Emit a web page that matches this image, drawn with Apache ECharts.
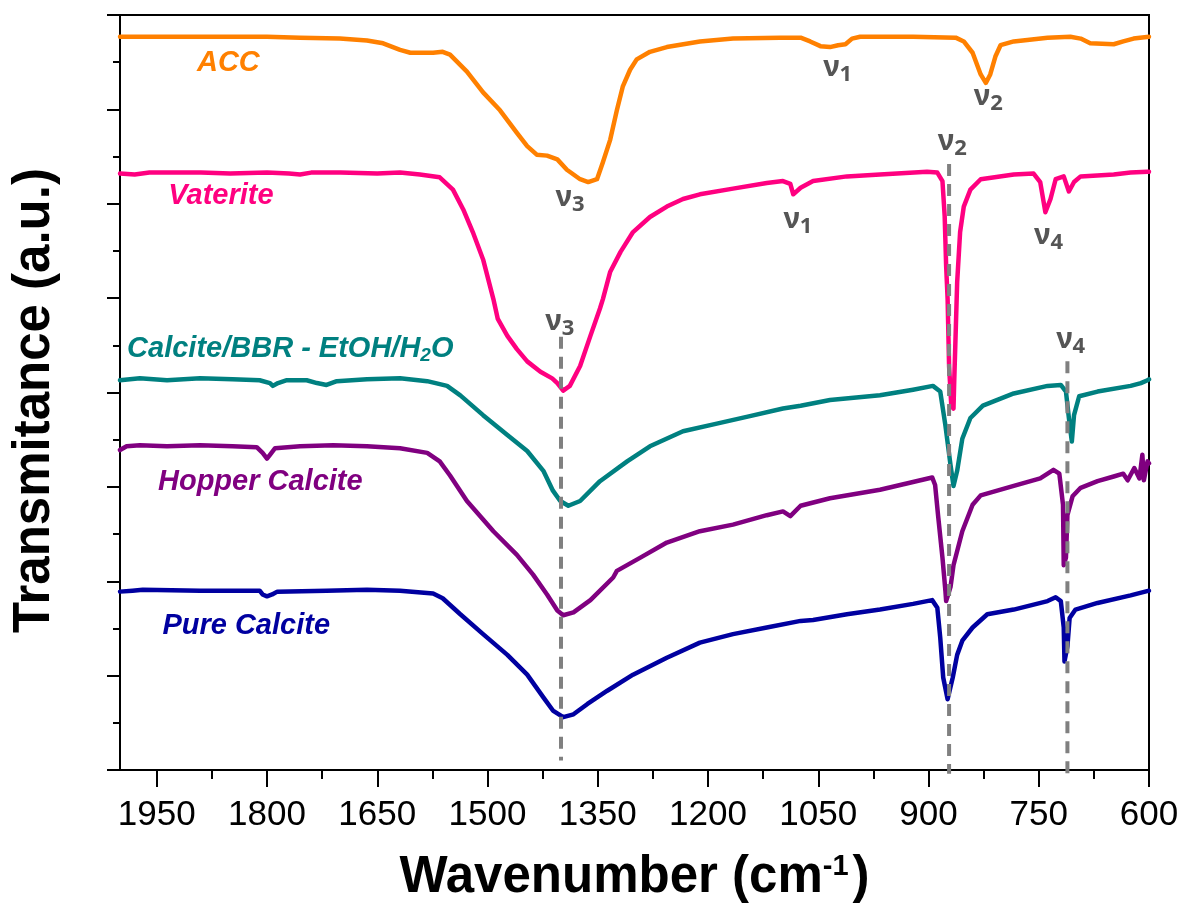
<!DOCTYPE html>
<html>
<head>
<meta charset="utf-8">
<title>FTIR spectra of CaCO3 polymorphs</title>
<script src="https://cdn.jsdelivr.net/npm/echarts@6/dist/echarts.min.js"></script>
<style>
  html, body { margin: 0; padding: 0; background: #ffffff; }
  #chart { width: 1183px; height: 908px; }
</style>
</head>
<body>
<div id="chart"></div>
<script>
// FTIR transmittance spectra, stacked with vertical offsets (arbitrary units).
// Each point: [wavenumber (cm-1), transmittance (a.u.)]
const accSpectrum = [
  [2000, 7.77], [1950, 7.77], [1891, 7.77], [1850, 7.77], [1800, 7.77], [1755, 7.76], [1701, 7.75],
  [1664, 7.73], [1642, 7.70], [1619, 7.63], [1605, 7.60], [1574, 7.60], [1561, 7.61], [1551, 7.58],
  [1528, 7.40], [1506, 7.18], [1483, 6.99], [1460, 6.75], [1446, 6.61], [1433, 6.52], [1419, 6.51],
  [1405, 6.47], [1392, 6.36], [1374, 6.26], [1363, 6.23], [1351, 6.26], [1343, 6.44], [1333, 6.68],
  [1324, 6.99], [1316, 7.24], [1306, 7.42], [1297, 7.53], [1279, 7.61], [1256, 7.66], [1211, 7.72],
  [1166, 7.75], [1102, 7.76], [1074, 7.76], [1061, 7.72], [1047, 7.67], [1034, 7.66], [1023, 7.68],
  [1013, 7.69], [1004, 7.75], [993, 7.77], [921, 7.77], [863, 7.76], [852, 7.72], [840, 7.60],
  [829, 7.37], [822, 7.28], [816, 7.37], [809, 7.56], [802, 7.68], [784, 7.72], [738, 7.76],
  [707, 7.77], [693, 7.75], [680, 7.70], [648, 7.69], [635, 7.72], [621, 7.75], [600, 7.77]
];

const vateriteSpectrum = [
  [2000, 6.32], [1980, 6.31], [1960, 6.33], [1930, 6.33], [1890, 6.33], [1850, 6.32], [1800, 6.33],
  [1770, 6.32], [1755, 6.31], [1740, 6.33], [1700, 6.33], [1650, 6.32], [1619, 6.33], [1592, 6.31],
  [1565, 6.28], [1547, 6.15], [1533, 5.94], [1520, 5.70], [1506, 5.41], [1492, 4.99], [1486, 4.78],
  [1473, 4.60], [1460, 4.46], [1446, 4.33], [1428, 4.22], [1412, 4.15], [1405, 4.10], [1397, 4.02],
  [1388, 4.07], [1374, 4.28], [1360, 4.60], [1347, 4.89], [1343, 4.99], [1333, 5.28], [1319, 5.49],
  [1302, 5.70], [1279, 5.86], [1256, 5.97], [1234, 6.05], [1211, 6.10], [1166, 6.16], [1120, 6.22],
  [1098, 6.24], [1088, 6.21], [1084, 6.10], [1074, 6.17], [1057, 6.24], [1011, 6.29], [966, 6.31],
  [902, 6.34], [888, 6.33], [881, 6.24], [878, 5.87], [876, 5.34], [874, 4.99], [872, 4.28],
  [869, 3.86], [866, 3.83], [865, 4.12], [863, 4.64], [861, 5.17], [857, 5.70], [852, 5.97],
  [843, 6.15], [829, 6.26], [784, 6.31], [757, 6.32], [748, 6.23], [741, 5.91], [734, 6.05],
  [727, 6.26], [716, 6.29], [709, 6.13], [702, 6.23], [693, 6.29], [648, 6.31], [625, 6.33],
  [602, 6.34], [600, 6.34]
];

const calciteBbrSpectrum = [
  [2000, 4.13], [1973, 4.15], [1936, 4.13], [1891, 4.15], [1847, 4.14], [1810, 4.13], [1796, 4.10],
  [1792, 4.07], [1785, 4.10], [1773, 4.13], [1746, 4.13], [1732, 4.10], [1719, 4.08], [1705, 4.12],
  [1664, 4.14], [1619, 4.15], [1582, 4.12], [1555, 4.07], [1537, 3.97], [1506, 3.76], [1473, 3.55],
  [1446, 3.38], [1424, 3.17], [1411, 2.96], [1401, 2.85], [1390, 2.80], [1374, 2.85], [1347, 3.06],
  [1310, 3.27], [1279, 3.43], [1234, 3.59], [1188, 3.67], [1143, 3.75], [1098, 3.83], [1074, 3.86],
  [1034, 3.92], [966, 3.97], [921, 4.03], [894, 4.07], [884, 4.01], [877, 3.65], [870, 3.23],
  [866, 3.01], [861, 3.17], [854, 3.51], [843, 3.73], [826, 3.86], [784, 3.99], [738, 4.07],
  [720, 4.08], [713, 4.01], [709, 3.73], [705, 3.48], [702, 3.76], [695, 3.96], [670, 4.01],
  [625, 4.07], [611, 4.10], [602, 4.13], [600, 4.14]
];

const hopperCalciteSpectrum = [
  [2000, 3.39], [1991, 3.43], [1973, 3.44], [1936, 3.43], [1891, 3.44], [1847, 3.43], [1814, 3.42],
  [1806, 3.36], [1800, 3.30], [1796, 3.34], [1789, 3.41], [1755, 3.43], [1710, 3.44], [1664, 3.43],
  [1619, 3.41], [1582, 3.36], [1565, 3.27], [1551, 3.12], [1528, 2.85], [1492, 2.53], [1460, 2.28],
  [1438, 2.07], [1419, 1.86], [1405, 1.69], [1397, 1.64], [1383, 1.67], [1360, 1.80], [1329, 2.04],
  [1324, 2.11], [1292, 2.25], [1256, 2.41], [1211, 2.53], [1166, 2.60], [1120, 2.70], [1098, 2.74],
  [1088, 2.69], [1074, 2.80], [1034, 2.88], [966, 2.97], [895, 3.10], [891, 3.02], [887, 2.70],
  [881, 2.25], [877, 1.90], [876, 1.79], [870, 1.94], [866, 2.17], [854, 2.53], [840, 2.81],
  [829, 2.91], [784, 3.01], [748, 3.09], [730, 3.18], [722, 3.14], [717, 2.81], [716, 2.17],
  [713, 2.25], [711, 2.70], [704, 2.90], [693, 2.99], [670, 3.06], [648, 3.11], [635, 3.14],
  [629, 3.07], [620, 3.20], [613, 3.09], [609, 3.34], [607, 3.07], [602, 3.27], [600, 3.25]
];

const pureCalciteSpectrum = [
  [2000, 1.89], [1983, 1.90], [1969, 1.91], [1891, 1.90], [1810, 1.90], [1806, 1.86], [1800, 1.84],
  [1793, 1.86], [1786, 1.89], [1719, 1.90], [1664, 1.91], [1619, 1.90], [1574, 1.87], [1561, 1.82],
  [1537, 1.65], [1506, 1.44], [1473, 1.22], [1446, 1.01], [1424, 0.77], [1411, 0.63], [1397, 0.56],
  [1383, 0.59], [1364, 0.70], [1337, 0.84], [1302, 1.01], [1256, 1.19], [1211, 1.35], [1166, 1.44],
  [1120, 1.51], [1074, 1.58], [1057, 1.59], [1011, 1.65], [966, 1.70], [921, 1.76], [895, 1.80],
  [888, 1.72], [884, 1.40], [880, 0.98], [874, 0.75], [867, 0.98], [861, 1.22], [854, 1.37],
  [840, 1.51], [820, 1.65], [784, 1.70], [738, 1.79], [727, 1.83], [720, 1.79], [716, 1.51],
  [715, 1.15], [711, 1.31], [708, 1.61], [700, 1.70], [670, 1.77], [625, 1.85], [600, 1.90]
];

// Sample names, colours and where each name sits (wavenumber, a.u.)
const sampleNames = ['ACC', 'Vaterite', 'Calcite/BBR - EtOH/H2O', 'Hopper Calcite', 'Pure Calcite'];
const sampleLabelText = ['ACC', 'Vaterite', 'Calcite/BBR - EtOH/H{sub|2}O', 'Hopper Calcite', 'Pure Calcite'];
const sampleColors = ['#FF8000', '#FF0080', '#008080', '#800080', '#0000A0'];
const sampleLabelAt = [[1896, 7.49], [1935, 6.08], [1991, 4.46], [1949, 3.05], [1943, 1.53]];

// Carbonate vibration modes (ν index) and where each mark sits
const bandIndex = ['1', '2', '3', '1', '2', '4', '3', '4'];
const bandLabelAt = [[1044, 7.44], [839, 7.13], [1408, 6.06], [1098, 5.83], [888, 6.66], [757, 5.66], [1422, 4.75], [727, 4.56]];

// Dashed guides through the calcite bands
const guideWavenumbers = [1400, 872, 711];
const guideTop = [4.59, 6.42, 4.33];
const guideBottom = [0.10, -0.04, -0.04];

// Axis ticks
const xMajorTicks = [1950, 1800, 1650, 1500, 1350, 1200, 1050, 900, 750, 600];
const xMinorTicks = [1875, 1725, 1575, 1425, 1275, 1125, 975, 825, 675];

const spectra = [accSpectrum, vateriteSpectrum, calciteBbrSpectrum, hopperCalciteSpectrum, pureCalciteSpectrum];

const FONT = "'Liberation Sans', Arial, sans-serif";
const BAND_FONT = "'Noto Sans', 'DejaVu Sans', sans-serif";
const BAND_COLOR = '#555555';
const HIDDEN = 'rgba(0,0,0,0)';
// invisible anchor points that carry text labels (opacity 1 so labels stay fully opaque)
const anchorStyle = { color: HIDDEN, opacity: 1 };

const series = [];

spectra.forEach(function (data, i) {
  series.push({
    name: sampleNames[i],
    type: 'line',
    data: data,
    showSymbol: false,
    symbol: 'none',
    smooth: false,
    lineStyle: { color: sampleColors[i], width: 4.5, join: 'round', cap: 'round' },
    z: 2
  });
});

guideWavenumbers.forEach(function (w, i) {
  series.push({
    name: 'guide-' + w,
    type: 'line',
    data: [[w, guideTop[i]], [w, guideBottom[i]]],
    showSymbol: false,
    symbol: 'none',
    clip: false,
    lineStyle: { color: '#808080', width: 4, type: [12, 8] },
    z: 3
  });
});

// Sample names beside each trace
series.push({
  name: 'sample-names',
  type: 'scatter',
  symbolSize: 1,
  itemStyle: anchorStyle,
  silent: true,
  z: 4,
  data: sampleLabelAt.map(function (p, i) {
    return {
      value: p,
      itemStyle: anchorStyle,
      label: {
        show: true,
        position: 'right',
        distance: 0,
        formatter: sampleLabelText[i],
        color: sampleColors[i],
        opacity: 1,
        fontFamily: FONT,
        fontStyle: 'italic',
        fontWeight: 'bold',
        fontSize: 29,
        rich: {
          sub: {
            fontFamily: FONT, fontStyle: 'italic', fontWeight: 'bold', fontSize: 19,
            color: sampleColors[i], verticalAlign: 'bottom', padding: [14, 0, 0, 0]
          }
        }
      }
    };
  })
});

// ν band marks
series.push({
  name: 'band-marks',
  type: 'scatter',
  symbolSize: 1,
  itemStyle: anchorStyle,
  silent: true,
  z: 4,
  data: bandLabelAt.map(function (p, i) {
    return {
      value: p,
      itemStyle: anchorStyle,
      label: {
        show: true,
        position: 'right',
        distance: 0,
        opacity: 1,
        formatter: '{nu|ν}{sub|' + bandIndex[i] + '}',
        rich: {
          nu: { fontFamily: BAND_FONT, fontWeight: 'bold', fontSize: 29, color: BAND_COLOR },
          sub: {
            fontFamily: BAND_FONT, fontWeight: 'bold', fontSize: 22, color: BAND_COLOR,
            verticalAlign: 'bottom', padding: [14, 0, 0, 0]
          }
        }
      }
    };
  })
});

const axisLineStyle = { color: '#000000', width: 2 };

const option = {
  animation: false,
  backgroundColor: '#ffffff',
  textStyle: { fontFamily: FONT },
  grid: {
    left: 120, right: 34, top: 15, bottom: 135,
    show: true, borderColor: '#000000', borderWidth: 2, backgroundColor: 'transparent'
  },
  xAxis: [
    {
      type: 'value',
      min: 600, max: 2000,
      inverse: true,
      position: 'bottom',
      name: 'Wavenumber (cm{sup|-1})',
      nameLocation: 'middle',
      nameGap: 82,
      nameTextStyle: {
        fontFamily: FONT, fontWeight: 'bold', fontSize: 51, color: '#000000',
        rich: {
          sup: { fontFamily: FONT, fontWeight: 'bold', fontSize: 29, color: '#000000', verticalAlign: 'top', padding: [0, 4, 22, 0] }
        }
      },
      axisLine: { show: true, lineStyle: axisLineStyle },
      axisTick: { show: true, customValues: xMajorTicks, length: 17, lineStyle: axisLineStyle },
      axisLabel: {
        show: true, customValues: xMajorTicks, fontFamily: FONT, fontSize: 35, color: '#000000', margin: 28,
        formatter: function (v) { return String(v); }
      },
      splitLine: { show: false }
    },
    {
      type: 'value',
      min: 600, max: 2000,
      inverse: true,
      position: 'bottom',
      axisLine: { show: false },
      axisTick: { show: true, customValues: xMinorTicks, length: 9, lineStyle: axisLineStyle },
      axisLabel: { show: false },
      splitLine: { show: false }
    }
  ],
  yAxis: {
    type: 'value',
    min: 0, max: 8, interval: 1,
    name: 'Transmitance (a.u.)',
    nameLocation: 'middle',
    nameGap: 60,
    nameTextStyle: { fontFamily: FONT, fontWeight: 'bold', fontSize: 51, color: '#000000', padding: [0, 16, 0, 0] },
    axisLine: { show: true, lineStyle: axisLineStyle },
    axisTick: { show: true, length: 13, lineStyle: axisLineStyle },
    minorTick: { show: true, splitNumber: 2, length: 7, lineStyle: axisLineStyle },
    axisLabel: { show: false },
    splitLine: { show: false },
    minorSplitLine: { show: false }
  },
  series: series
};

const chart = echarts.init(document.getElementById('chart'), null, { renderer: 'canvas' });
chart.setOption(option);
</script>
</body>
</html>
